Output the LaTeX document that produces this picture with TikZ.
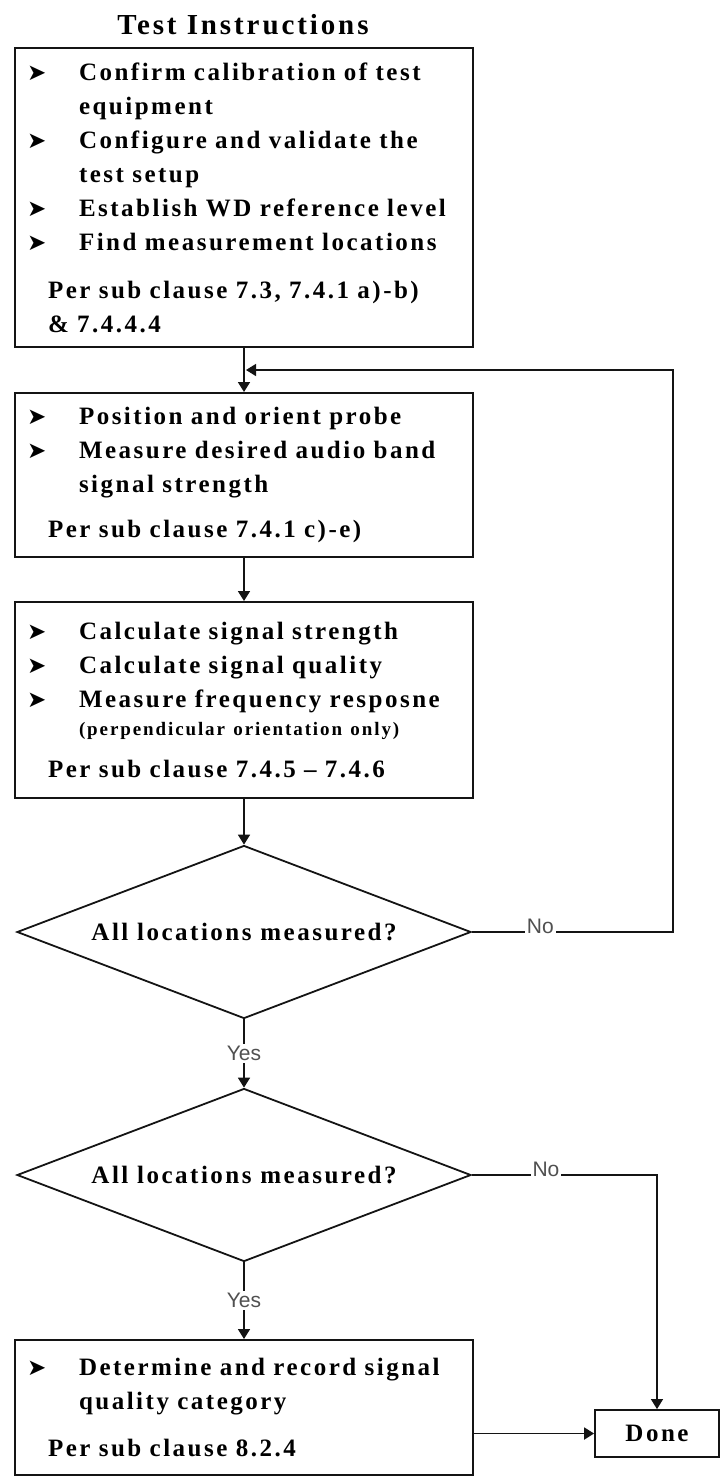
\documentclass[tikz,border=0pt]{standalone}
\usepackage{fontspec}
\setmainfont{Liberation Serif}
\newfontfamily\boxfont[LetterSpace=10]{Liberation Serif}
\newfontfamily\labfont{Liberation Sans}
\newfontfamily\symfont{DejaVu Sans}
\usepackage{tikz}
\usetikzlibrary{shapes.geometric, arrows.meta, positioning, calc}
\definecolor{mydark}{RGB}{20,20,20}
\definecolor{mylabel}{RGB}{80,80,80}
\newcommand{\itm}[1]{\makebox[26pt][l]{\symfont\fontsize{11.5}{11.5}\selectfont ➤}#1}
\newcommand{\cnt}[1]{\hspace*{26pt}#1}
\newcommand{\per}[1]{\hspace*{10.5pt}#1}
\tikzset{
  stepbox/.style={rectangle, draw=mydark, line width=1pt,
    minimum width=229pt, inner xsep=6pt, inner ysep=0pt, text width=217pt,
    align=left, font=\boxfont\bfseries\fontsize{12.5}{17}\selectfont},
  decision/.style={diamond, draw=mydark, line width=0.9pt, aspect=2.62,
    minimum width=227pt, minimum height=86.5pt, inner sep=0pt,
    font=\boxfont\bfseries\fontsize{12.5}{14}\selectfont},
  donebox/.style={rectangle, draw=mydark, line width=0.9pt,
    minimum width=62pt, minimum height=23.5pt,
    font=\boxfont\bfseries\fontsize{12.5}{14}\selectfont},
  heading/.style={font=\boxfont\bfseries\fontsize{14.5}{17}\selectfont},
  flow/.style={-{Triangle[length=5pt,width=6pt]}, line width=0.9pt, color=mydark},
  thinflow/.style={-{Triangle[length=5pt,width=6pt]}, line width=0.7pt, color=mydark},
  answer/.style={font=\labfont\fontsize{10.5}{12}\selectfont, text=mylabel,
    fill=white, inner sep=1pt}
}
\begin{document}
\begin{tikzpicture}[x=0.5pt, y=-0.5pt]
  \useasboundingbox (0,0) rectangle (721,1477);

  \node[heading] (title) at (243,25) {Test Instructions};

  % boxes of the test steps
  \node[stepbox, minimum height=149.5pt] (box1) at (244,197.5) {%
    \itm{Confirm calibration of test}\\
    \cnt{equipment}\\
    \itm{Configure and validate the}\\
    \cnt{test setup}\\
    \itm{Establish WD reference level}\\
    \itm{Find measurement locations}\\[7pt]
    \per{Per sub clause 7.3, 7.4.1 a)-b)}\\
    \per{\& 7.4.4.4}};
  \node[stepbox, minimum height=82pt] (box2) at (244,475) {%
    \itm{Position and orient probe}\\
    \itm{Measure desired audio band}\\
    \cnt{signal strength}\\[5.5pt]
    \per{Per sub clause 7.4.1 c)-e)}};
  \node[stepbox, minimum height=98pt] (box3) at (244,700) {%
    \itm{Calculate signal strength}\\
    \itm{Calculate signal quality}\\
    \itm{Measure frequency resposne}\\[-3pt]
    \cnt{{\fontsize{9.5}{10}\selectfont(perpendicular orientation only)}}\\[4pt]
    \per{Per sub clause 7.4.5 \textendash{} 7.4.6}};

  \node[decision] (dec1) at (244,932) {All locations measured?};
  \node[decision] (dec2) at (244,1175) {All locations measured?};

  \node[stepbox, minimum height=67.5pt] (box4) at (244,1407.5) {%
    \itm{Determine and record signal}\\
    \cnt{quality category}\\[6.5pt]
    \per{Per sub clause 8.2.4}};
  \node[donebox] (done) at (657,1433.5) {Done};

  % connectors
  \coordinate (loopin) at ($(box1.south)!.5!(box2.north)$);
  \coordinate (loopturn) at (673,932);
  \draw[flow] (box1.south) -- (box2.north);
  \draw[flow] (box2.south) -- (box3.north);
  \draw[flow] (box3.south) -- (dec1.north);
  \draw[flow] (dec1.south) -- node[answer] {Yes} (dec2.north);
  \draw[flow] (dec2.south) -- node[answer] {Yes} (box4.north);
  \draw[thinflow, shorten >=1pt] (dec1.east) -- node[answer, pos=.34, yshift=3pt] {No}
    (loopturn) |- (loopin);
  \draw[thinflow] (dec2.east) -- node[answer, pos=.4, yshift=3pt] {No}
    (dec2.east -| done.north) -- (done.north);
  \draw[flow] (box4.east |- done.west) -- (done.west);
\end{tikzpicture}
\end{document}
